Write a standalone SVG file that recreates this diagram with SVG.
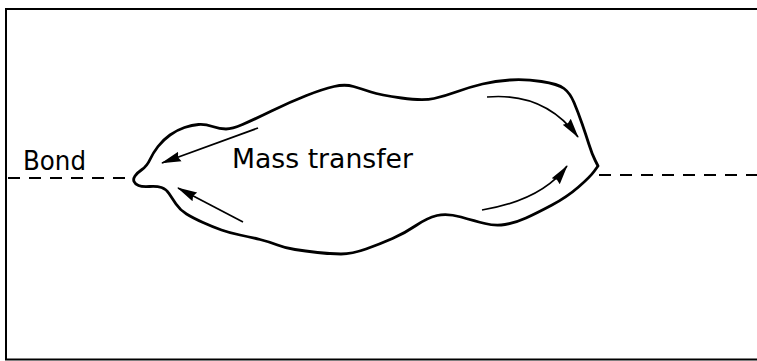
<svg xmlns="http://www.w3.org/2000/svg" width="757" height="361" viewBox="0 0 757 361">
<style>
.frame{fill:none;stroke:#000;stroke-width:2}
.blob{fill:none;stroke:#000;stroke-width:2.8;stroke-linejoin:round}
.dash{fill:none;stroke:#000;stroke-width:1.8;stroke-dasharray:12 9}
.arr{fill:none;stroke:#000;stroke-width:1.7;marker-end:url(#ah)}
.lbl{font-family:"DejaVu Sans",sans-serif;font-size:26px;fill:#000}
</style>
<defs>
<marker id="ah" viewBox="0 0 20 12" markerWidth="20" markerHeight="12" refX="19" refY="6" orient="auto" markerUnits="userSpaceOnUse">
<path d="M0,1 L20,6 L0,11 L2,6 z" fill="#000"/>
</marker>
</defs>
<path class="frame" d="M757,9 H6 V359.5 H757"/>
<g id="bond-line">
<line class="dash" x1="8" y1="178" x2="133" y2="178"/>
<line class="dash" x1="599" y1="175" x2="757" y2="175"/>
</g>
<g id="particle">
<path class="blob" d="M134,181.5 Q133,179 135,176 Q137,173 142,169.5 Q147,166 150,159.5 Q153,153 158,146.5 Q163,140 170,135 Q177,130 184.5,127.5 Q192,125 198.5,124.5 Q205,124 212.5,126.5 Q220,129 226,129 Q232,129 242.5,124.5 Q253,120 271.5,111 Q290,102 306.5,95.5 Q323,89 334,86.5 Q345,84 353.5,86.5 Q362,89 371,92 Q380,95 401.5,98 Q423,101 434,98.5 Q445,96 457.5,91.5 Q470,87 482.5,84 Q495,81 510,80 Q525,79 541.5,81.5 Q558,84 564,88.5 Q570,93 574,102.5 Q578,112 582,123.5 Q586,135 589,144.5 Q592,154 595,160 L598,166 L594,171.5 Q590,177 578.5,187 Q567,197 552,205 Q537,213 526,218 Q515,223 505,224.5 Q495,226 485,223.5 Q475,221 461,217 Q447,213 437,215.5 Q427,218 416,225.5 Q405,233 392.5,238.5 Q380,244 366,249 Q352,254 341,254 Q330,254 317.5,252.5 Q305,251 295,249.5 Q285,248 277.5,245 Q270,242 260,239.5 Q250,237 240,235 Q230,233 221.5,230 Q213,227 203,222.5 Q193,218 186.5,214 Q180,210 176,204 Q172,198 169,193.5 Q166,189 161.5,187.5 Q157,186 149.5,186.5 Q142,187 138.5,185.5 Q135,184 134,181.5 Z"/>
</g>
<g id="connectors">
<path class="arr" d="M258,128 L162,163"/>
<path class="arr" d="M243,222 L178,188"/>
<path class="arr" d="M487,97 Q545,92 578,137"/>
<path class="arr" d="M482,210 Q542,200 567,166"/>
</g>
<g id="labels">
<text class="lbl" x="23" y="170" textLength="63" lengthAdjust="spacingAndGlyphs">Bond</text>
<text class="lbl" x="232" y="168" textLength="181" lengthAdjust="spacingAndGlyphs">Mass transfer</text>
</g>
</svg>
